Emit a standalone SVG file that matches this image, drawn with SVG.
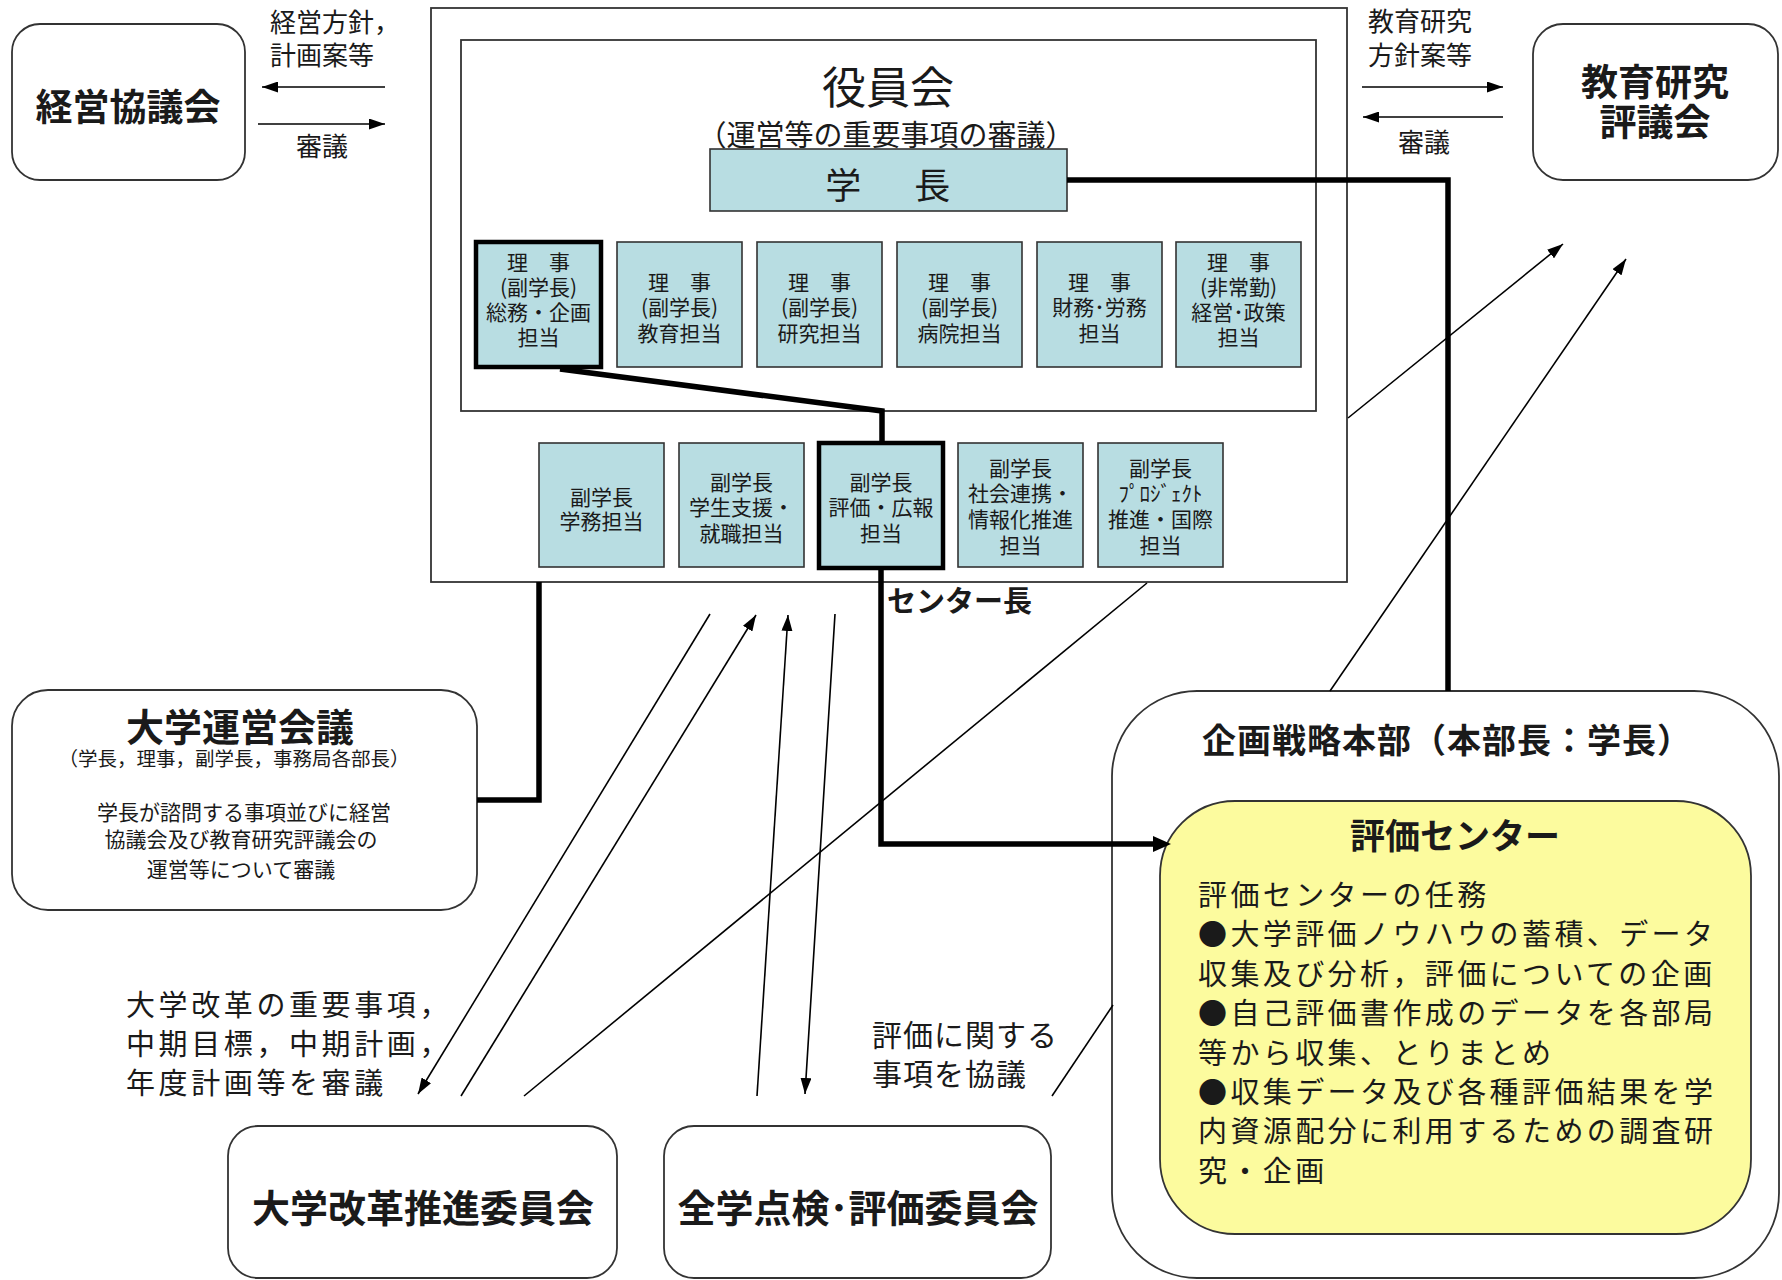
<svg xmlns="http://www.w3.org/2000/svg" width="1782" height="1280" viewBox="0 0 1782 1280">
<style>
.box{fill:#fff;stroke:#333;stroke-width:1.8}
.blue{fill:#b8dde2;stroke:#333;stroke-width:1.6}
.blueT{fill:#b8dde2;stroke:#000;stroke-width:4.5}
.yel{fill:#fcfb9e;stroke:#333;stroke-width:1.8}
.t{font-family:"Noto Sans CJK JP","Noto Sans CJK SC",sans-serif;fill:#1a1a1a}
.b{font-weight:bold}
.c{text-anchor:middle}
.s21{font-size:21px}
.ln{stroke:#000;stroke-width:1.6;fill:none}
.thick{stroke:#000;stroke-width:5.5;fill:none}
</style>
<defs>
<marker id="ah" viewBox="0 0 16 11" refX="16" refY="5.5" markerWidth="16" markerHeight="11" markerUnits="userSpaceOnUse" orient="auto">
<path d="M0,0 L16,5.5 L0,11 z" fill="#000"/>
</marker>
<marker id="ahb" viewBox="0 0 18 16" refX="0" refY="8" markerWidth="18" markerHeight="16" markerUnits="userSpaceOnUse" orient="auto">
<path d="M0,0 L18,8 L0,16 z" fill="#000"/>
</marker>
</defs>

<g id="keiei">
<rect class="box" x="12" y="24" width="233" height="156" rx="28"/>
<text class="t b c" x="128" y="121" font-size="37">経営協議会</text>
</g>

<g id="kyoiku">
<rect class="box" x="1533" y="24" width="245" height="156" rx="30"/>
<text class="t b c" font-size="37"><tspan x="1655" y="96">教育研究</tspan><tspan x="1655" y="136">評議会</tspan></text>
</g>

<g id="outer">
<rect class="box" x="431" y="8" width="916" height="574"/>
</g>

<g id="yakuinkai">
<rect class="box" x="461" y="40" width="855" height="371"/>
<text class="t c"><tspan x="888" y="104" font-size="44">役員会</tspan><tspan x="886" y="146" font-size="29">（運営等の重要事項の審議）</tspan></text>
</g>

<g id="gakucho">
<rect class="blue" x="710" y="149" width="357" height="62"/>
<text class="t c" x="892" y="199" font-size="36" letter-spacing="8.5">学　長</text>
</g>

<g id="riji1">
<rect class="blueT" x="476" y="242" width="125" height="125"/>
<text class="t c s21"><tspan x="538.5" y="270">理　事</tspan><tspan x="538.5" y="295">(副学長)</tspan><tspan x="538.5" y="320">総務・企画</tspan><tspan x="538.5" y="345">担当</tspan></text>
</g>
<g id="riji2">
<rect class="blue" x="617" y="242" width="125" height="125"/>
<text class="t c s21"><tspan x="679.5" y="290">理　事</tspan><tspan x="679.5" y="315">(副学長)</tspan><tspan x="679.5" y="341">教育担当</tspan></text>
</g>
<g id="riji3">
<rect class="blue" x="757" y="242" width="125" height="125"/>
<text class="t c s21"><tspan x="819.5" y="290">理　事</tspan><tspan x="819.5" y="315">(副学長)</tspan><tspan x="819.5" y="341">研究担当</tspan></text>
</g>
<g id="riji4">
<rect class="blue" x="897" y="242" width="125" height="125"/>
<text class="t c s21"><tspan x="959.5" y="290">理　事</tspan><tspan x="959.5" y="315">(副学長)</tspan><tspan x="959.5" y="341">病院担当</tspan></text>
</g>
<g id="riji5">
<rect class="blue" x="1037" y="242" width="125" height="125"/>
<text class="t c s21"><tspan x="1099.5" y="290">理　事</tspan><tspan x="1099.5" y="315">財務･労務</tspan><tspan x="1099.5" y="341">担当</tspan></text>
</g>
<g id="riji6">
<rect class="blue" x="1176" y="242" width="125" height="125"/>
<text class="t c s21"><tspan x="1238.5" y="270">理　事</tspan><tspan x="1238.5" y="295">(非常勤)</tspan><tspan x="1238.5" y="320">経営･政策</tspan><tspan x="1238.5" y="345">担当</tspan></text>
</g>

<g id="fuku1">
<rect class="blue" x="539" y="443" width="125" height="124"/>
<text class="t c s21"><tspan x="601.5" y="505">副学長</tspan><tspan x="601.5" y="529">学務担当</tspan></text>
</g>
<g id="fuku2">
<rect class="blue" x="679" y="443" width="125" height="124"/>
<text class="t c s21"><tspan x="741.5" y="490">副学長</tspan><tspan x="741.5" y="515">学生支援・</tspan><tspan x="741.5" y="541">就職担当</tspan></text>
</g>
<g id="fuku3">
<rect class="blueT" x="819" y="443" width="124" height="125"/>
<text class="t c s21"><tspan x="881" y="490">副学長</tspan><tspan x="881" y="515">評価・広報</tspan><tspan x="881" y="541">担当</tspan></text>
</g>
<g id="fuku4">
<rect class="blue" x="958" y="443" width="125" height="124"/>
<text class="t c s21"><tspan x="1020.5" y="476">副学長</tspan><tspan x="1020.5" y="501">社会連携・</tspan><tspan x="1020.5" y="527">情報化推進</tspan><tspan x="1020.5" y="553">担当</tspan></text>
</g>
<g id="fuku5">
<rect class="blue" x="1098" y="443" width="125" height="124"/>
<text class="t c s21"><tspan x="1160.5" y="476">副学長</tspan><tspan x="1160.5" y="501">ﾌﾟﾛｼﾞｪｸﾄ</tspan><tspan x="1160.5" y="527">推進・国際</tspan><tspan x="1160.5" y="553">担当</tspan></text>
</g>

<g id="unei">
<rect class="box" x="12" y="690" width="465" height="220" rx="36"/>
<text class="t c"><tspan class="b" x="240" y="741" font-size="38">大学運営会議</tspan><tspan x="234" y="766" font-size="19.5">（学長，理事，副学長，事務局各部長）</tspan><tspan x="244" y="820" font-size="21">学長が諮問する事項並びに経営</tspan><tspan x="241" y="847" font-size="21">協議会及び教育研究評議会の</tspan><tspan x="241" y="877" font-size="21">運営等について審議</tspan></text>
</g>

<g id="kikaku">
<rect class="box" x="1112" y="691" width="667" height="587" rx="85"/>
<text class="t b c" x="1447" y="753" font-size="34" letter-spacing="1">企画戦略本部（本部長：学長）</text>
</g>

<g id="hyoka">
<rect class="yel" x="1160" y="801" width="591" height="433" rx="75"/>
<text class="t" font-size="29" letter-spacing="3.4"><tspan class="b c" x="1455" y="849" font-size="35" letter-spacing="0">評価センター</tspan><tspan x="1198" y="906">評価センターの任務</tspan><tspan x="1198" y="945">●大学評価ノウハウの蓄積、データ</tspan><tspan x="1198" y="985">収集及び分析，評価についての企画</tspan><tspan x="1198" y="1024">●自己評価書作成のデータを各部局</tspan><tspan x="1198" y="1064">等から収集、とりまとめ</tspan><tspan x="1198" y="1103">●収集データ及び各種評価結果を学</tspan><tspan x="1198" y="1142">内資源配分に利用するための調査研</tspan><tspan x="1198" y="1182">究・企画</tspan></text>
</g>

<g id="kaikaku">
<rect class="box" x="228" y="1126" width="389" height="152" rx="30"/>
<text class="t b c" x="423" y="1222" font-size="38">大学改革推進委員会</text>
</g>

<g id="tenken">
<rect class="box" x="664" y="1126" width="387" height="152" rx="30"/>
<text class="t b c" x="858" y="1222" font-size="38">全学点検･評価委員会</text>
</g>

<g id="labels" class="t">
<text font-size="26"><tspan x="270" y="32">経営方針，</tspan><tspan x="270" y="65">計画案等</tspan></text>
<text class="c" x="322" y="156" font-size="26">審議</text>
<text font-size="26"><tspan x="1368" y="31">教育研究</tspan><tspan x="1368" y="65">方針案等</tspan></text>
<text class="c" x="1424" y="152" font-size="26">審議</text>
<text class="b" x="887" y="612" font-size="29">センター長</text>
<text font-size="29" letter-spacing="3.6"><tspan x="126" y="1016">大学改革の重要事項，</tspan><tspan x="126" y="1055">中期目標，中期計画，</tspan><tspan x="126" y="1094">年度計画等を審議</tspan></text>
<text font-size="30" letter-spacing="1"><tspan x="872" y="1046">評価に関する</tspan><tspan x="872" y="1085">事項を協議</tspan></text>
</g>

<g id="connectors">
<path class="ln" d="M385,87 H262" marker-end="url(#ah)"/>
<path class="ln" d="M258,124 H385" marker-end="url(#ah)"/>
<path class="ln" d="M1362,87 H1503" marker-end="url(#ah)"/>
<path class="ln" d="M1503,117 H1363" marker-end="url(#ah)"/>
<path class="ln" d="M1348,418 L1563,244" marker-end="url(#ah)"/>
<path class="ln" d="M1330,691 L1626,259" marker-end="url(#ah)"/>
<path class="ln" d="M710,614 L418,1094" marker-end="url(#ah)"/>
<path class="ln" d="M461,1096 L756,615" marker-end="url(#ah)"/>
<path class="ln" d="M524,1096 L1147,583"/>
<path class="ln" d="M757,1096 L788,615" marker-end="url(#ah)"/>
<path class="ln" d="M835,614 L805,1094" marker-end="url(#ah)"/>
<path class="ln" d="M1052,1096 L1113,1005"/>
<path class="thick" d="M1067,180 H1448 V691"/>
<path class="thick" d="M560,369 L882,411 V443"/>
<path class="thick" d="M881,570 V844 H1153" marker-end="url(#ahb)"/>
<path class="thick" d="M539,582 V800 H477"/>
</g>
</svg>
